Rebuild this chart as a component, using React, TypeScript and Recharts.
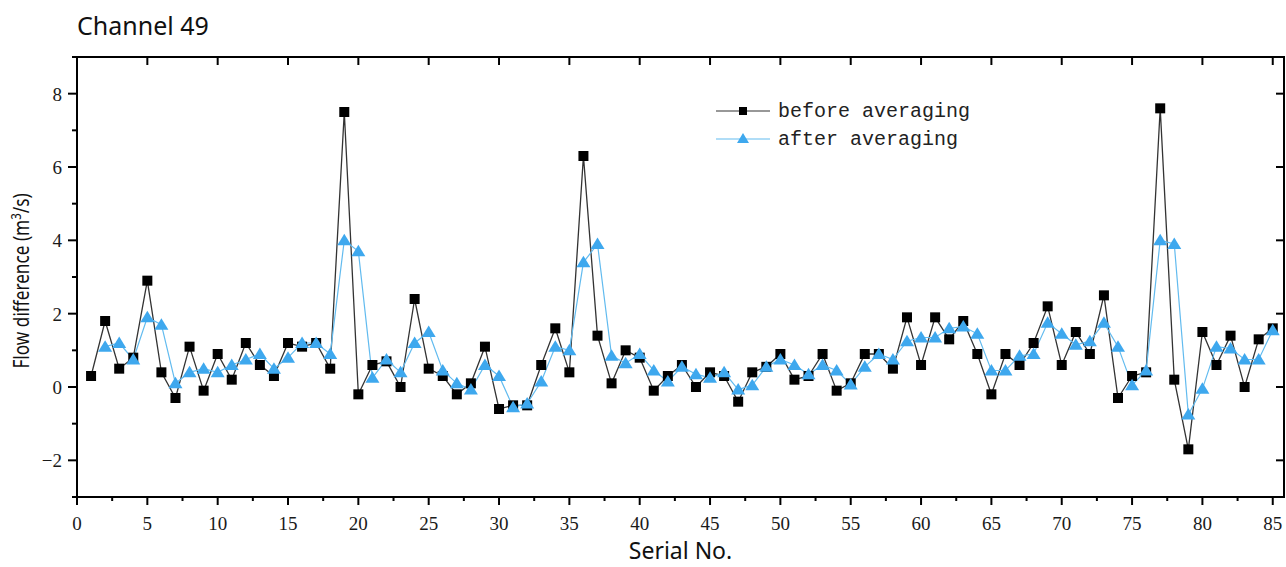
import { LineChart, Line, XAxis, YAxis } from "recharts";

// Serial No. 1..85
const before = [
  0.3, 1.8, 0.5, 0.8, 2.9, 0.4, -0.3, 1.1, -0.1, 0.9,
  0.2, 1.2, 0.6, 0.3, 1.2, 1.1, 1.2, 0.5, 7.5, -0.2,
  0.6, 0.7, 0.0, 2.4, 0.5, 0.3, -0.2, 0.1, 1.1, -0.6,
  -0.5, -0.5, 0.6, 1.6, 0.4, 6.3, 1.4, 0.1, 1.0, 0.8,
  -0.1, 0.3, 0.6, 0.0, 0.4, 0.3, -0.4, 0.4, 0.55, 0.9,
  0.2, 0.3, 0.9, -0.1, 0.1, 0.9, 0.9, 0.5, 1.9, 0.6,
  1.9, 1.3, 1.8, 0.9, -0.2, 0.9, 0.6, 1.2, 2.2, 0.6,
  1.5, 0.9, 2.5, -0.3, 0.3, 0.4, 7.6, 0.2, -1.7, 1.5,
  0.6, 1.4, 0.0, 1.3, 1.6,
];

const after: (number | null)[] = [
  null, 1.1, 1.2, 0.75, 1.9, 1.7, 0.1, 0.4, 0.5, 0.4,
  0.6, 0.75, 0.9, 0.5, 0.8, 1.2, 1.2, 0.9, 4.0, 3.7,
  0.25, 0.75, 0.4, 1.2, 1.5, 0.45, 0.1, -0.07, 0.6, 0.3,
  -0.55, -0.45, 0.15, 1.1, 1.0, 3.4, 3.9, 0.85, 0.65, 0.9,
  0.45, 0.15, 0.55, 0.35, 0.25, 0.4, -0.07, 0.05, 0.55, 0.75,
  0.6, 0.35, 0.6, 0.45, 0.07, 0.55, 0.9, 0.75, 1.25, 1.35,
  1.35, 1.6, 1.65, 1.45, 0.45, 0.45, 0.85, 0.9, 1.75, 1.45,
  1.15, 1.25, 1.75, 1.1, 0.05, 0.45, 4.0, 3.9, -0.75, -0.05,
  1.1, 1.05, 0.75, 0.75, 1.55,
];

const xMajor = [0, 5, 10, 15, 20, 25, 30, 35, 40, 45, 50, 55, 60, 65, 70, 75, 80, 85];
const xMinor = [2.5, 7.5, 12.5, 17.5, 22.5, 27.5, 32.5, 37.5, 42.5, 47.5, 52.5, 57.5, 62.5, 67.5, 72.5, 77.5, 82.5];
const yMajor = [-2, 0, 2, 4, 6, 8];
const yMinor = [-3, -1, 1, 3, 5, 7, 9];
const X_DOMAIN: [number, number] = [0, 85.8];
const Y_DOMAIN: [number, number] = [-3, 9];

const data = before.map((b, i) => ({ n: i + 1, before: b, after: after[i] }));

// layout
const W = 1286;
const H = 567;
const M_TOP = 57;
const M_RIGHT = 2;
const Y_AXIS_W = 77;
const X_AXIS_H = 70;
const PLOT_L = Y_AXIS_W;
const PLOT_T = M_TOP;
const PLOT_R = W - M_RIGHT;
const PLOT_B = H - X_AXIS_H;

const SERIF = "'Liberation Serif', 'DejaVu Serif', serif";
const SANS = "'Noto Sans', 'Open Sans', sans-serif";
const MONO = "'Liberation Mono', 'DejaVu Sans Mono', monospace";
const BLUE = "#3ea8ee";
const BLUE_LINE = "#62bbef";
const INK = "#1a1a1a";
const AXIS_LINE = { stroke: "#000", strokeWidth: 2 };

const fmt = (v: number) => (v < 0 ? `\u2212${-v}` : `${v}`);

function BottomTick(props: any) {
  const { x, y, payload } = props;
  const major = xMajor.includes(payload.value);
  return (
    <g>
      <line x1={x} x2={x} y1={y} y2={y + (major ? 8 : 4)} stroke="#000" strokeWidth={2} />
      {major ? (
        <>
          {/* mirrored tick on the top frame */}
          <line x1={x} x2={x} y1={PLOT_T} y2={PLOT_T + 8} stroke="#000" strokeWidth={2} />
          <text x={x} y={y + 33} textAnchor="middle" fontFamily={SERIF} fontSize={19} fill={INK}>
            {payload.value}
          </text>
        </>
      ) : null}
    </g>
  );
}

function LeftTick(props: any) {
  const { x, y, payload } = props;
  const major = yMajor.includes(payload.value);
  return (
    <g>
      <line x1={x} x2={x - (major ? 9 : 5)} y1={y} y2={y} stroke="#000" strokeWidth={2} />
      {major ? (
        <>
          {/* mirrored tick on the right frame */}
          <line x1={PLOT_R} x2={PLOT_R - 8} y1={y} y2={y} stroke="#000" strokeWidth={2} />
          <text x={x - 15} y={y + 7} textAnchor="end" fontFamily={SERIF} fontSize={19} fill={INK}>
            {fmt(payload.value)}
          </text>
        </>
      ) : null}
    </g>
  );
}

function LegendBox() {
  return (
    <svg width={300} height={60} style={{ position: "absolute", left: 712, top: 97 }}>
      <line x1={4} x2={58} y1={14} y2={14} stroke="#333" strokeWidth={1.2} />
      <rect x={27} y={10} width={8} height={8} fill="#000" />
      <text x={66} y={20} fontFamily={MONO} fontSize={20} fill="#222">before averaging</text>
      <line x1={4} x2={58} y1={42} y2={42} stroke={BLUE_LINE} strokeWidth={1.2} />
      <polygon points="31,36 37,46 25,46" fill={BLUE} />
      <text x={66} y={48} fontFamily={MONO} fontSize={20} fill="#222">after averaging</text>
    </svg>
  );
}

function SquareDot(props: any) {
  const { cx, cy, index } = props;
  if (cx == null || cy == null) return <g key={`s${index}`} />;
  return <rect key={`s${index}`} x={cx - 5} y={cy - 5} width={10} height={10} fill="#000" />;
}

function TriangleDot(props: any) {
  const { cx, cy, index, value } = props;
  if (cx == null || cy == null || value == null) return <g key={`t${index}`} />;
  return (
    <polygon
      key={`t${index}`}
      points={`${cx},${cy - 6.5} ${cx + 7},${cy + 5} ${cx - 7},${cy + 5}`}
      fill={BLUE}
    />
  );
}

export default function App() {
  return (
    <div
      style={{
        position: "absolute",
        left: 0,
        top: 0,
        width: W,
        height: H,
        background: "#fff",
      }}
    >
      <div
        style={{
          position: "absolute",
          left: 77,
          top: 8,
          fontFamily: SANS,
          fontSize: 25,
          lineHeight: "34px",
          color: "#111",
        }}
      >
        Channel 49
      </div>
      <LineChart width={W} height={H} data={data} margin={{ top: M_TOP, right: M_RIGHT, bottom: 0, left: 0 }}>
        <XAxis
          dataKey="n"
          type="number"
          domain={X_DOMAIN}
          ticks={[...xMajor, ...xMinor]}
          interval={0}
          height={X_AXIS_H}
          tickSize={0}
          tickMargin={0}
          tickLine={false}
          tick={BottomTick}
          axisLine={AXIS_LINE}
          label={(p: any) => {
            const vb = p.viewBox ?? {};
            return (
              <text
                x={(vb.x ?? 0) + (vb.width ?? 0) / 2}
                y={(vb.y ?? 0) + 62}
                textAnchor="middle"
                fontFamily={SANS}
                fontSize={23}
                fill="#111"
              >
                Serial No.
              </text>
            );
          }}
        />
        <YAxis
          type="number"
          domain={Y_DOMAIN}
          ticks={[...yMajor, ...yMinor]}
          interval={0}
          width={Y_AXIS_W}
          tickSize={0}
          tickMargin={0}
          tickLine={false}
          tick={LeftTick}
          axisLine={AXIS_LINE}
          label={(p: any) => {
            const vb = p.viewBox ?? {};
            const cx = 29;
            const cy = (vb.y ?? 0) + (vb.height ?? 0) / 2 + 4;
            return (
              <text
                transform={`translate(${cx}, ${cy}) rotate(-90) scale(0.82, 1)`}
                textAnchor="middle"
                fontFamily={SANS}
                fontSize={21}
                fill="#111"
              >
                <tspan>Flow difference (m</tspan>
                <tspan fontSize={14} dy={-8}>3</tspan>
                <tspan dy={8}>/s)</tspan>
              </text>
            );
          }}
        />
        <Line
          type="linear"
          dataKey="before"
          name="before averaging"
          stroke="#333"
          strokeWidth={1.3}
          dot={SquareDot}
          activeDot={false}
          isAnimationActive={false}
        />
        <Line
          type="linear"
          dataKey="after"
          name="after averaging"
          stroke={BLUE_LINE}
          strokeWidth={1.2}
          dot={TriangleDot}
          activeDot={false}
          isAnimationActive={false}
        />
      </LineChart>
      {/* top and right sides of the box frame */}
      <div
        style={{
          position: "absolute",
          left: PLOT_L - 1,
          top: PLOT_T - 1,
          width: PLOT_R - PLOT_L,
          height: PLOT_B - PLOT_T,
          borderTop: "2px solid #000",
          borderRight: "2px solid #000",
          pointerEvents: "none",
          zIndex: 5,
        }}
      />
      <LegendBox />
    </div>
  );
}
